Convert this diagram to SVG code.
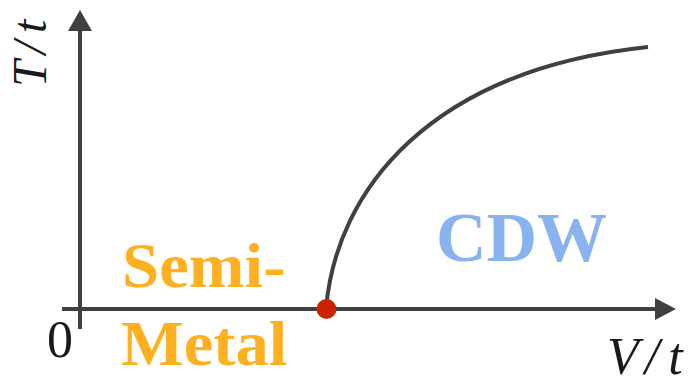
<svg xmlns="http://www.w3.org/2000/svg" width="691" height="385" viewBox="0 0 691 385">
<style>
.ax{stroke:#404040;stroke-width:4;fill:none}
.cv{stroke:#404040;stroke-width:4;fill:none}
.head{fill:#404040}
</style>
<rect width="691" height="385" fill="#ffffff"/>
<g id="connectors">
<line class="ax" x1="80" y1="329" x2="80" y2="28"/>
<polygon class="head" points="80,10 92,31 68,31"/>
<line class="ax" x1="62" y1="309" x2="657" y2="309"/>
<polygon class="head" points="676,309 655,298 655,320"/>
<path class="cv" d="M326,309 C336,190 430,70 648,47"/>
</g>
<g id="critical-point">
<circle cx="326.5" cy="309" r="10" fill="#CC2200"/>
</g>
<g id="axis-labels">
<text font-family="Liberation Serif" font-size="48" font-style="italic" fill="#1a1a1a" transform="translate(46,87) rotate(-90)">T<tspan dx="6">/</tspan><tspan dx="8">t</tspan></text>
<text font-family="Liberation Serif" x="607" y="374" font-size="52" font-style="italic" fill="#1a1a1a">V<tspan dx="6">/</tspan><tspan dx="9">t</tspan></text>
<text font-family="Liberation Serif" x="47" y="357" font-size="52" fill="#1a1a1a">0</text>
</g>
<g id="semimetal">
<text font-family="Liberation Serif" font-weight="bold" fill="#FFB020" font-size="64" transform="translate(122,287) scale(1.045,1)">Semi-</text>
<text font-family="Liberation Serif" font-weight="bold" fill="#FFB020" font-size="64" transform="translate(121,365) scale(1.04,1)">Metal</text>
</g>
<g id="cdw">
<text font-family="Liberation Serif" font-weight="bold" fill="#88B3EE" font-size="70" x="436" y="261">CDW</text>
</g>
</svg>
